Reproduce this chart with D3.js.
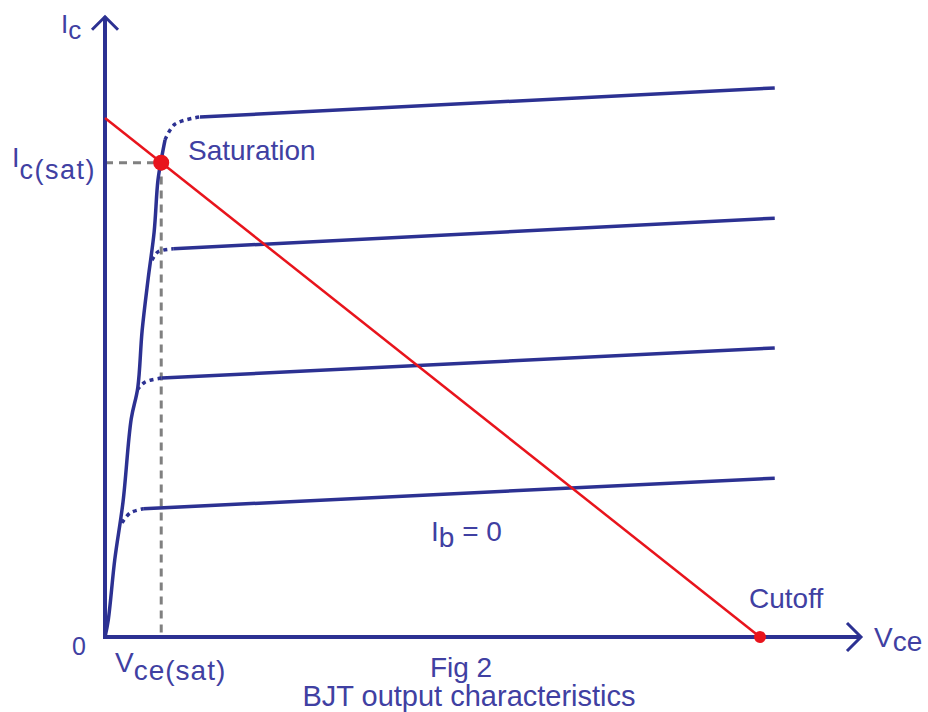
<!DOCTYPE html>
<html>
<head>
<meta charset="utf-8">
<script src="https://cdn.jsdelivr.net/npm/d3@7"></script>
<style>
  body { margin: 0; background: #fff; }
  svg text { font-family: "Liberation Sans", Arial, sans-serif; fill: #4040a2; }
</style>
</head>
<body>
<svg id="chart" width="928" height="712"></svg>
<script>
// Vce in volts, Ic in mA
var envelope = [[0, 0], [0.06, 0.33], [0.18, 1.5], [0.33, 2.6], [0.48, 4.2], [0.6, 4.8],
                [0.68, 5.9], [0.79, 6.9], [0.9, 7.8], [0.97, 8.8], [1.04, 9.25], [1.1, 9.58]];
var knees = [
  [[1.1, 9.58], [1.28, 9.88], [1.74, 10.02]],
  [[0.86, 7.26], [0.97, 7.42], [1.25, 7.48]],
  [[0.59, 4.76], [0.73, 4.91], [1.04, 4.99]],
  [[0.31, 2.2], [0.46, 2.39], [0.7, 2.47]]
];
var flatEnds = [10.58, 8.07, 5.57, 3.06];
var vceEnd = 12.27;
var loadLine = [[0, 10], [12, 0]];
var satPoint = [1.03, 9.14];
var cutoffPoint = [12, 0];
var xAxisMax = 13.85, yAxisMax = 11.95;

var svg = d3.select("#chart");
var x = d3.scaleLinear().domain([0, 12]).range([105, 760]);
var y = d3.scaleLinear().domain([0, 10]).range([637, 118]);
var blue = "#2c3192";

var line = d3.line()
  .x(function(d) { return x(d[0]); })
  .y(function(d) { return y(d[1]); });
var smooth = d3.line()
  .x(function(d) { return x(d[0]); })
  .y(function(d) { return y(d[1]); })
  .curve(d3.curveCatmullRom);

// dashed guides to the saturation point
svg.append("path")
  .attr("d", line([[0, satPoint[1]], satPoint, [satPoint[0], 0]]))
  .attr("fill", "none")
  .attr("stroke", "#808080")
  .attr("stroke-width", 3)
  .attr("stroke-dasharray", "8,6");

// axes with arrows
svg.append("path")
  .attr("d", line([[0, yAxisMax], [0, 0], [xAxisMax, 0]]))
  .attr("fill", "none")
  .attr("stroke", blue)
  .attr("stroke-width", 4);
svg.append("path")
  .attr("d", "M" + (x(0) - 13) + "," + (y(yAxisMax) + 13) + "L" + x(0) + "," + y(yAxisMax) +
             "L" + (x(0) + 13) + "," + (y(yAxisMax) + 13))
  .attr("fill", "none").attr("stroke", blue).attr("stroke-width", 3);
svg.append("path")
  .attr("d", "M" + (x(xAxisMax) - 14) + "," + (y(0) - 14) + "L" + x(xAxisMax) + "," + y(0) +
             "L" + (x(xAxisMax) - 14) + "," + (y(0) + 14))
  .attr("fill", "none").attr("stroke", blue).attr("stroke-width", 3);

// characteristic curves
svg.append("path")
  .attr("d", smooth(envelope))
  .attr("fill", "none")
  .attr("stroke", blue)
  .attr("stroke-width", 3.5);

svg.selectAll(".knee")
  .data(knees)
  .enter()
  .append("path")
    .attr("class", "knee")
    .attr("d", function(d) { return smooth(d); })
    .attr("fill", "none")
    .attr("stroke", blue)
    .attr("stroke-width", 3.5)
    .attr("stroke-dasharray", "4,4");

svg.selectAll(".flat")
  .data(knees)
  .enter()
  .append("path")
    .attr("class", "flat")
    .attr("d", function(d, i) { return line([d[d.length - 1], [vceEnd, flatEnds[i]]]); })
    .attr("fill", "none")
    .attr("stroke", blue)
    .attr("stroke-width", 3.5);

// load line
svg.append("path")
  .attr("d", line(loadLine))
  .attr("fill", "none")
  .attr("stroke", "#e8141c")
  .attr("stroke-width", 2.5);
svg.append("circle")
  .attr("cx", x(satPoint[0])).attr("cy", y(satPoint[1]))
  .attr("r", 8).attr("fill", "#e8141c");
svg.append("circle")
  .attr("cx", x(cutoffPoint[0])).attr("cy", y(cutoffPoint[1]))
  .attr("r", 6).attr("fill", "#e8141c");

// labels
function subLabel(px, py, main, sub, dy, size, rest, spacing) {
  var t = svg.append("text").attr("x", px).attr("y", py).attr("font-size", size);
  t.append("tspan").text(main);
  t.append("tspan").attr("dy", dy).attr("letter-spacing", spacing || 0).text(sub);
  if (rest) t.append("tspan").attr("dy", -dy).text(rest);
}
subLabel(61, 33, "I", "c", 6, 26);
subLabel(12, 167, "I", "c(sat)", 12, 27, null, 1.5);
subLabel(115, 672, "V", "ce(sat)", 8, 28, null, 1);
subLabel(874, 647, "V", "ce", 4, 28);
subLabel(431, 541, "I", "b", 6, 28, " = 0");

svg.append("text").attr("x", 72).attr("y", 655).attr("font-size", 25).text("0");
svg.append("text").attr("x", 188).attr("y", 160).attr("font-size", 28).text("Saturation");
svg.append("text").attr("x", 749).attr("y", 608).attr("font-size", 28).text("Cutoff");
svg.append("text").attr("x", 461).attr("y", 677).attr("font-size", 28)
  .attr("text-anchor", "middle").text("Fig 2");
svg.append("text").attr("x", 469).attr("y", 706).attr("font-size", 29)
  .attr("text-anchor", "middle").text("BJT  output characteristics");
</script>
</body>
</html>
